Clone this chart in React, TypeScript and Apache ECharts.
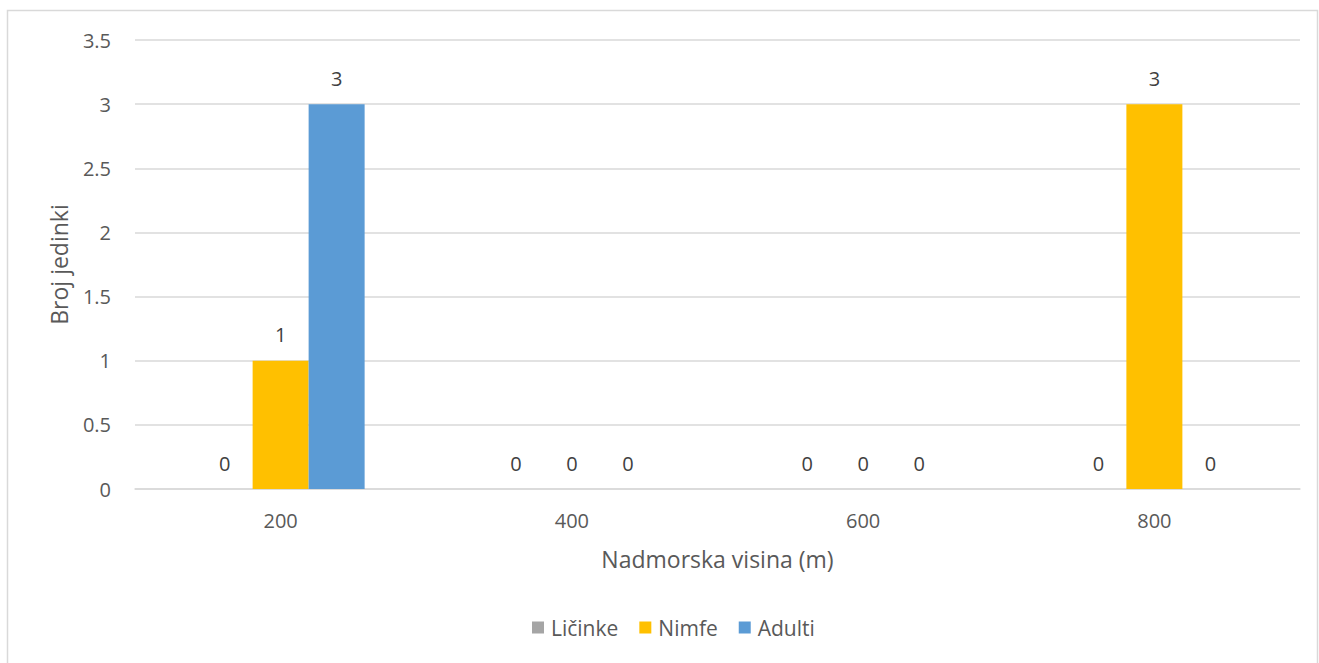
import React, { useEffect, useRef } from "react";
import * as echarts from "echarts";

const categories = ["200", "400", "600", "800"];
const seriesNames = ["Ličinke", "Nimfe", "Adulti"];
const licinke = [0, 0, 0, 0];
const nimfe = [1, 0, 0, 3];
const adulti = [3, 0, 0, 0];
const colors = ["#A5A5A5", "#FFC000", "#5B9BD5"];

export default function App() {
  const ref = useRef<HTMLDivElement>(null);
  useEffect(() => {
    if (!ref.current) return;
    const chart = echarts.init(ref.current, null, { renderer: "svg" });
    const font = "'Open Sans', sans-serif";
    const mk = (name: string, data: number[], color: string) => ({
      name,
      type: "bar",
      data,
      barWidth: 56,
      barGap: "0%",
      itemStyle: { color },
      label: {
        show: true,
        position: "top",
        distance: 16,
        color: "#404040",
        fontSize: 20,
        fontFamily: font,
      },
    });
    chart.setOption({
      animation: false,
      textStyle: { fontFamily: font },
      graphic: [
        {
          type: "rect",
          shape: { x: 7.5, y: 10.5, width: 1310, height: 660 },
          style: { fill: "none", stroke: "#d9d9d9", lineWidth: 1.5 },
          silent: true,
        },
      ],
      grid: { left: 135, right: 19, top: 40, bottom: 174 },
      legend: {
        bottom: 20,
        left: 527,
        itemWidth: 12,
        itemHeight: 12,
        itemGap: 21,
        icon: "rect",
        textStyle: { color: "#595959", fontSize: 21, fontFamily: font, padding: [0, 0, 0, 2] },
        data: seriesNames,
      },
      xAxis: {
        type: "category",
        data: categories,
        name: "Nadmorska visina (m)",
        nameLocation: "middle",
        nameGap: 58,
        nameTextStyle: { color: "#595959", fontSize: 23, fontFamily: font },
        axisLine: { lineStyle: { color: "#d9d9d9", width: 1.5 } },
        axisTick: { show: false },
        axisLabel: { color: "#595959", fontSize: 20, margin: 21, fontFamily: font },
      },
      yAxis: {
        type: "value",
        min: 0,
        max: 3.5,
        interval: 0.5,
        name: "Broj jedinki",
        nameLocation: "middle",
        nameGap: 65,
        nameTextStyle: { color: "#595959", fontSize: 23, fontFamily: font },
        axisLine: { show: false },
        axisTick: { show: false },
        axisLabel: { color: "#595959", fontSize: 20, margin: 24, fontFamily: font },
        splitLine: { lineStyle: { color: "#d9d9d9", width: 1.5 } },
      },
      series: [
        mk(seriesNames[0], licinke, colors[0]),
        mk(seriesNames[1], nimfe, colors[1]),
        mk(seriesNames[2], adulti, colors[2]),
      ],
    });
    return () => chart.dispose();
  }, []);
  return (
    <div
      ref={ref}
      style={{ position: "absolute", left: 0, top: 0, width: 1319, height: 663, background: "#fff" }}
    />
  );
}
